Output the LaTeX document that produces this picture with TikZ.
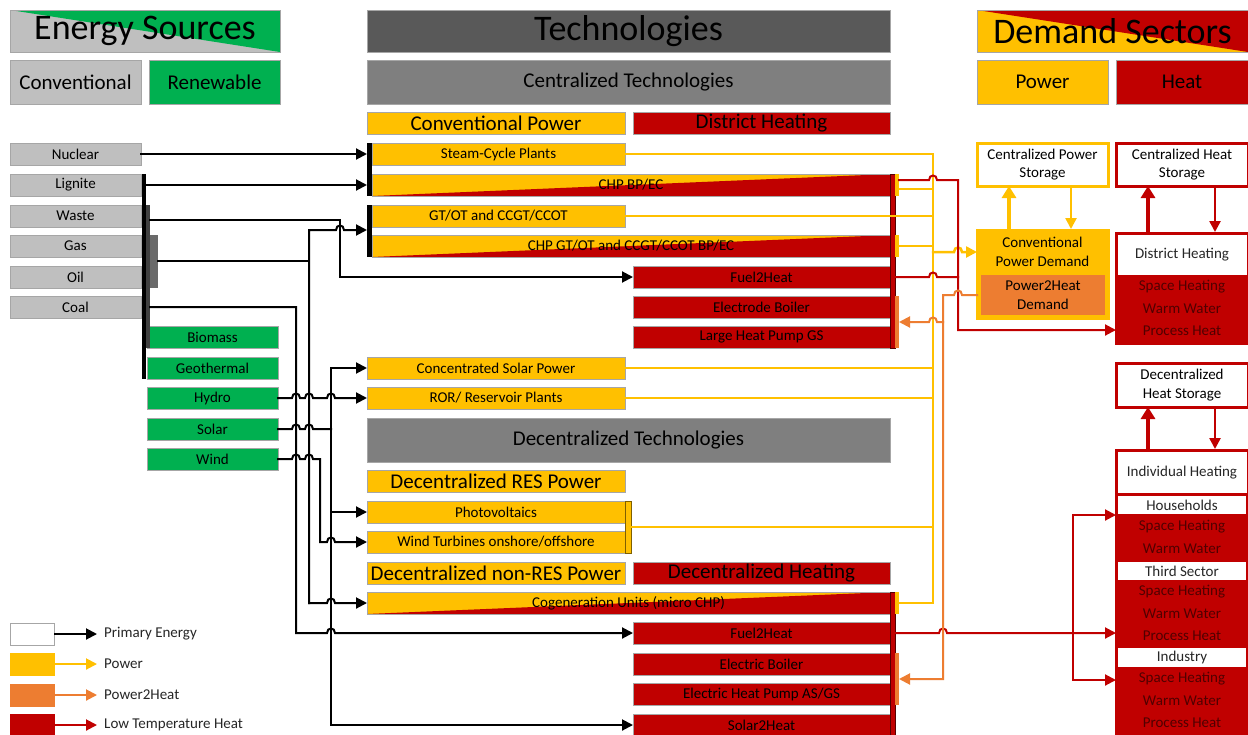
\documentclass[tikz,border=0pt]{standalone}
\usepackage{fontspec}
\setmainfont{Carlito}
\usetikzlibrary{arrows.meta}
\definecolor{cy}{HTML}{FFC000}
\definecolor{cr}{HTML}{C00000}
\definecolor{co}{HTML}{ED7D31}
\definecolor{cg}{HTML}{00B050}
\definecolor{clg}{HTML}{BFBFBF}
\definecolor{cdg}{HTML}{595959}
\definecolor{cmg}{HTML}{7F7F7F}
\definecolor{cbd}{HTML}{A6A6A6}
\definecolor{cdr}{HTML}{500000}
\definecolor{cbarB}{HTML}{404040}
\definecolor{cbarC}{HTML}{6A6A6A}
\definecolor{cpvb}{HTML}{7F6000}
\newcommand{\fsS}{\fontsize{15}{18.5}\selectfont}
\newcommand{\fsM}{\fontsize{21}{24}\selectfont}
\newcommand{\fsL}{\fontsize{36}{40}\selectfont}
\newcommand{\Bx}[7]{\node[#6,minimum width={(#4-#2)*1pt},minimum height={(#5-#3)*1pt}] (#1) at ({(#2+#4)/2},{(#3+#5)/2}) {#7};}
\begin{document}
\begin{tikzpicture}[x=1pt,y=-1pt,
 bx/.style={rectangle,inner sep=0pt,outer sep=0pt,draw=cbd,line width=0.8pt,font=\fsS,text=black,align=center},
 boxY/.style={bx,fill=cy},
 boxR/.style={bx,fill=cr},
 boxG/.style={bx,fill=cg},
 boxLG/.style={bx,fill=clg},
 boxDG/.style={bx,fill=cdg},
 boxMG/.style={bx,fill=cmg},
 boxO/.style={bx,fill=co},
 boxW/.style={bx,fill=white},
 boxSplit/.style={bx,fill=cy,path picture={\fill[cr] (path picture bounding box.south west) -- (path picture bounding box.north east) -- (path picture bounding box.south east) -- cycle;}},
 boxES/.style={bx,fill=clg,path picture={\fill[cg] (path picture bounding box.north west) -- (path picture bounding box.north east) -- (path picture bounding box.south east) -- cycle;}},
 boxDS/.style={bx,fill=cy,path picture={\fill[cr] (path picture bounding box.north west) -- (path picture bounding box.north east) -- (path picture bounding box.south east) -- cycle;}},
 barbox/.style={rectangle,inner sep=0pt,outer sep=0pt,draw=none},
 demY/.style={rectangle,inner sep=0pt,outer sep=0pt,draw=cy,line width=3pt,font=\fsS,align=center},
 demR/.style={rectangle,inner sep=0pt,outer sep=0pt,draw=cr,line width=3pt,font=\fsS,align=center},
 band/.style={rectangle,inner sep=0pt,outer sep=0pt,fill=white,draw=none,font=\fsS,text=black!85},
 rowtxt/.style={font=\fsS,text=cdr,inner sep=0pt},
 lgtxt/.style={font=\fsS,text=black!85,anchor=west,inner sep=0pt},
 lineP/.style={draw=black,line width=2pt,line cap=rect},
 lineY/.style={draw=cy,line width=2.5pt,line cap=rect},
 lineR/.style={draw=cr,line width=2pt,line cap=rect},
 lineO/.style={draw=co,line width=2pt,line cap=rect},
 arrowhd/.style={-{Triangle[length=11pt,width=11pt]}},
 bigtip/.style={-{Triangle[length=12pt,width=14pt]}}
]
\useasboundingbox (0,0) rectangle (1248,734);
\fill[white] (0,0) rectangle (1248,734);

% ---------- headers ----------
\Bx{es}{10}{10}{280}{52}{boxES,font=\fsL}{Energy Sources}
\Bx{conv}{10}{60}{141}{104}{boxLG,font=\fsM}{Conventional}
\Bx{ren}{149}{60}{280}{104}{boxG,font=\fsM}{Renewable}
\Bx{tech}{367}{10}{890}{52}{boxDG,font=\fsL}{Technologies}
\Bx{ctech}{367}{60}{890}{104}{boxMG,font=\fsM}{Centralized Technologies}
\Bx{ds}{977}{10}{1248}{52}{boxDS,font=\fsL}{Demand Sectors}
\Bx{pwh}{977}{60}{1108}{104}{boxY,font=\fsM}{Power}
\Bx{hth}{1116}{60}{1248}{104}{boxR,font=\fsM}{Heat}
\Bx{cph}{367}{112}{625}{134}{boxY,font=\fsM}{Conventional Power}
\Bx{dhh}{633}{112}{890}{134}{boxR,font=\fsM}{District Heating}

% ---------- sources ----------
\Bx{nuclear}{10}{143}{141}{165}{boxLG}{Nuclear}
\Bx{lignite}{10}{174}{141}{196}{boxLG}{Lignite}
\Bx{waste}{10}{205}{141}{227}{boxLG}{Waste}
\Bx{gas}{10}{235}{141}{257}{boxLG}{Gas}
\Bx{oil}{10}{266}{141}{288}{boxLG}{Oil}
\Bx{coal}{10}{296}{141}{318}{boxLG}{Coal}
\Bx{biomass}{147}{326}{278}{348}{boxG}{Biomass}
\Bx{geo}{147}{357}{278}{379}{boxG}{Geothermal}
\Bx{hydro}{147}{387}{278}{409}{boxG}{Hydro}
\Bx{solar}{147}{418}{278}{440}{boxG}{Solar}
\Bx{wind}{147}{448}{278}{470}{boxG}{Wind}
\Bx{barA}{142}{174}{146}{379}{barbox,fill=black}{}
\Bx{barB}{146}{205}{150}{348}{barbox,fill=cbarB}{}
\Bx{barC}{150}{235}{158}{288}{barbox,fill=cbarC}{}

% ---------- centralized technologies ----------
\Bx{steam}{372}{143}{625}{165}{boxY}{Steam-Cycle Plants}
\Bx{chp1}{372}{174}{890}{196}{boxSplit}{CHP BP/EC}
\Bx{gtot}{372}{205}{625}{227}{boxY}{GT/OT and CCGT/CCOT}
\Bx{chp2}{372}{235}{890}{257}{boxSplit}{CHP GT/OT and CCGT/CCOT BP/EC}
\Bx{f2h}{633}{266}{890}{288}{boxR}{Fuel2Heat}
\Bx{eb}{633}{296}{890}{318}{boxR}{Electrode Boiler}
\Bx{lhp}{633}{326}{890}{348}{boxR}{Large Heat Pump GS}
\Bx{csp}{367}{357}{625}{379}{boxY}{Concentrated Solar Power}
\Bx{ror}{367}{387}{625}{409}{boxY}{ROR/ Reservoir Plants}
\Bx{gb1}{367}{143}{372}{196}{barbox,fill=black}{}
\Bx{gb2}{367}{205}{372}{257}{barbox,fill=black}{}
\Bx{hb1}{890}{174}{895}{348}{barbox,fill=cr,draw=black!55!cr,line width=0.6pt}{}
\Bx{yb1}{895}{174}{899}{196}{barbox,fill=cy}{}
\Bx{yb2}{895}{235}{899}{257}{barbox,fill=cy}{}
\Bx{ob1}{895}{296}{899}{348}{barbox,fill=co}{}

% ---------- decentralized technologies ----------
\Bx{dtech}{367}{418}{890}{462}{boxMG,font=\fsM}{Decentralized Technologies}
\Bx{dres}{367}{470}{625}{492}{boxY,font=\fsM}{Decentralized RES Power}
\Bx{pv}{367}{501}{625}{523}{boxY}{Photovoltaics}
\Bx{wt}{367}{531}{625}{553}{boxY}{Wind Turbines onshore/offshore}
\Bx{pvbar}{625}{501}{631}{553}{barbox,fill=cy,draw=cpvb,line width=0.8pt}{}
\Bx{dnres}{367}{562}{625}{584}{boxY,font=\fsM}{Decentralized non-RES Power}
\Bx{dheat}{633}{562}{890}{584}{boxR,font=\fsM}{Decentralized Heating}
\Bx{cog}{367}{592}{890}{614}{boxSplit}{Cogeneration Units (micro CHP)}
\Bx{df2h}{633}{622}{890}{644}{boxR}{Fuel2Heat}
\Bx{ebo}{633}{653}{890}{675}{boxR}{Electric Boiler}
\Bx{ehp}{633}{683}{890}{705}{boxR}{Electric Heat Pump AS/GS}
\Bx{s2h}{633}{714}{890}{736}{boxR}{Solar2Heat}
\Bx{hb2}{890}{592}{895}{740}{barbox,fill=cr,draw=black!55!cr,line width=0.6pt}{}
\Bx{yb3}{895}{592}{899}{614}{barbox,fill=cy}{}
\Bx{ob2}{895}{653}{899}{705}{barbox,fill=co}{}

% ---------- demand ----------
\Bx{cps}{977}{143}{1108}{186}{demY,fill=white}{Centralized Power\\Storage}
\Bx{chs}{1116}{143}{1248}{186}{demR,fill=white}{Centralized Heat\\Storage}
\Bx{cpd}{977}{230}{1108}{318}{demY,fill=cy}{}
\Bx{p2h}{981}{275}{1105}{315}{barbox,fill=co,font=\fsS,align=center}{Power2Heat\\Demand}
\node[font=\fsS,align=center,inner sep=0pt] (cpdt) at (1042.5,252) {Conventional\\Power Demand};
\Bx{dhd}{1116}{233}{1248}{343}{demR,fill=white}{}
\fill[cr] (1116,275) rectangle (1248,344.5);
\node[font=\fsS,text=black!85,inner sep=0pt] (dht) at (1182,255) {District Heating};
\node[rowtxt] (dhA) at (1182,287) {Space Heating};
\node[rowtxt] (dhB) at (1182,309) {Warm Water};
\node[rowtxt] (dhC) at (1182,331) {Process Heat};
\Bx{dhs}{1116}{363}{1248}{407}{demR,fill=white}{Decentralized\\Heat Storage}
\Bx{ind}{1116}{450}{1248}{745}{demR,fill=cr}{}
\Bx{indt}{1117.5}{451.5}{1246.5}{493}{band}{Individual Heating}
\Bx{hh}{1118}{496}{1246}{514}{band}{Households}
\Bx{tsec}{1118}{562}{1246}{580}{band}{Third Sector}
\Bx{indu}{1118}{648}{1246}{667}{band}{Industry}
\node[rowtxt] (hhA) at (1182,527) {Space Heating};
\node[rowtxt] (hhB) at (1182,549) {Warm Water};
\node[rowtxt] (tsA) at (1182,592) {Space Heating};
\node[rowtxt] (tsB) at (1182,614) {Warm Water};
\node[rowtxt] (tsC) at (1182,636) {Process Heat};
\node[rowtxt] (inA) at (1182,679) {Space Heating};
\node[rowtxt] (inB) at (1182,701) {Warm Water};
\node[rowtxt] (inC) at (1182,723) {Process Heat};

% ---------- legend ----------
\Bx{leg1}{10}{623}{54}{645}{boxW}{}
\Bx{leg2}{10}{653}{54}{675}{boxY,draw=cy}{}
\Bx{leg3}{10}{684}{54}{706}{boxO,draw=co}{}
\Bx{leg4}{10}{714}{54}{736}{boxR,draw=cr}{}
\node[lgtxt] (lt1) at (104,634) {Primary Energy};
\node[lgtxt] (lt2) at (104,664) {Power};
\node[lgtxt] (lt3) at (104,695) {Power2Heat};
\node[lgtxt] (lt4) at (104,725) {Low Temperature Heat};
\draw[lineP,line cap=butt,arrowhd] (leg1.east) -- (lt1.west -| 97,0);
\draw[lineY,line width=2pt,line cap=butt,arrowhd] (leg2.east) -- (97,664);
\draw[lineO,line cap=butt,arrowhd] (leg3.east) -- (97,695);
\draw[lineR,line cap=butt,arrowhd] (leg4.east) -- (97,725);

% ---------- primary energy connectors ----------
\draw[lineP,arrowhd] (nuclear.east) -- (gb1.west |- nuclear.east);
\draw[lineP,arrowhd] (barA.east |- chp1.center) -- (gb1.west |- chp1.center);
\draw[lineP,arrowhd] (150,220) -- (340,220) -- (340,277) -- (f2h.west);
\draw[lineP] (158,261) -- (309,261);
\draw[lineP,arrowhd] (309,603) -- (309,230) -- (336,230) .. controls (336,224) and (344,224) .. (344,230) -- (367,230);
\draw[lineP,arrowhd] (309,603) -- (327,603) .. controls (327,597) and (335,597) .. (335,603) -- (cog.west);
\draw[lineP,arrowhd] (150,307) -- (296,307) -- (296,633) -- (327,633) .. controls (327,627) and (335,627) .. (335,633) -- (df2h.west);
\draw[lineP,arrowhd] (hydro.east) -- (292,398) .. controls (292,392) and (300,392) .. (300,398) -- (305,398) .. controls (305,392) and (313,392) .. (313,398) -- (327,398) .. controls (327,392) and (335,392) .. (335,398) -- (ror.west);
\draw[lineP] (solar.east) -- (292,429) .. controls (292,423) and (300,423) .. (300,429) -- (305,429) .. controls (305,423) and (313,423) .. (313,429) -- (331,429);
\draw[lineP,arrowhd] (331,429) -- (331,368) -- (csp.west);
\draw[lineP,arrowhd] (331,429) -- (331,512) -- (pv.west);
\draw[lineP,arrowhd] (331,512) -- (331,725) -- (s2h.west);
\draw[lineP,arrowhd] (wind.east) -- (292,459) .. controls (292,453) and (300,453) .. (300,459) -- (305,459) .. controls (305,453) and (313,453) .. (313,459) -- (320,459) -- (320,542) -- (327,542) .. controls (327,536) and (335,536) .. (335,542) -- (wt.west);

% ---------- power connectors ----------
\draw[lineY] (steam.east) -- (933,154) -- (933,603) -- (yb3.east |- cog.center);
\draw[lineY] (899,189) -- (933,189);
\draw[lineY] (gtot.east) -- (933,216);
\draw[lineY] (yb2.east) -- (933,246);
\draw[lineY] (csp.east) -- (933,368);
\draw[lineY] (ror.east) -- (933,398);
\draw[lineY] (pvbar.east) -- (933,527);
\draw[lineY,arrowhd] (933,252) -- (954,252) .. controls (954,246) and (962,246) .. (962,252) -- (cpd.west |- cpdt.center);

% ---------- heat connectors ----------
\draw[lineR,arrowhd] (899,180) -- (929,180) .. controls (929,174) and (937,174) .. (937,180) -- (958,180) -- (958,330) -- (1116,330);
\draw[lineR] (hb1.east |- f2h.center) -- (929,277) .. controls (929,271) and (937,271) .. (937,277) -- (958,277);
\draw[lineR,arrowhd] (hb2.east |- df2h.center) -- (939,633) .. controls (939,627) and (947,627) .. (947,633) -- (1116,633);
\draw[lineR,{Triangle[length=11pt,width=11pt]}-{Triangle[length=11pt,width=11pt]}] (1116,515) -- (1073,515) -- (1073,680) -- (1116,680);

% ---------- power2heat connectors ----------
\draw[lineO,arrowhd] (977,295) -- (962,295) .. controls (962,289) and (954,289) .. (954,295) -- (943,295) -- (943,679) -- (ob2.east |- 0,679);
\draw[lineO,arrowhd] (943,322) -- (937,322) .. controls (937,316) and (929,316) .. (929,322) -- (ob1.east |- 0,322);

% ---------- storage arrows ----------
\draw[draw=cy,line width=4pt,bigtip] (1009,229) -- (cps.south -| 1009,0);
\draw[draw=cy,line width=2.5pt,arrowhd] (1071,187) -- (1071,229);
\draw[draw=cr,line width=4pt,bigtip] (1148,232) -- (chs.south -| 1148,0);
\draw[draw=cr,line width=2.5pt,arrowhd] (1215,187) -- (1215,232);
\draw[draw=cr,line width=4pt,bigtip] (1148,449) -- (dhs.south -| 1148,0);
\draw[draw=cr,line width=2.5pt,arrowhd] (1215,408) -- (1215,449);
\end{tikzpicture}
\end{document}
